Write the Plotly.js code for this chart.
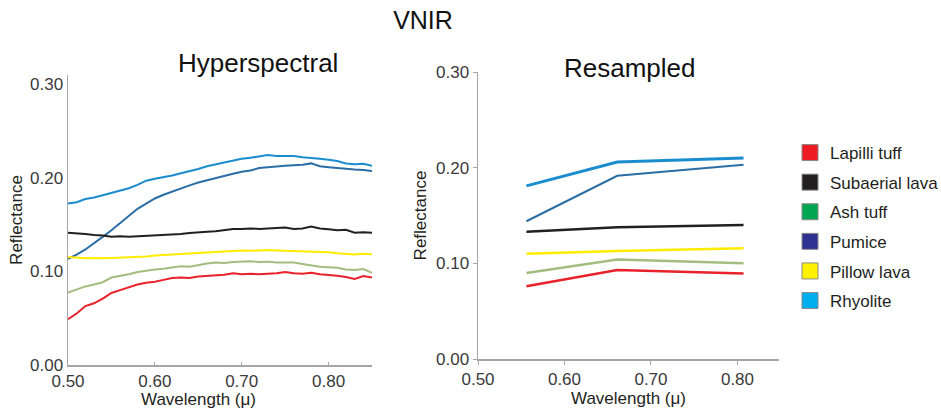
<!DOCTYPE html>
<html>
<head>
<meta charset="utf-8">
<script src="https://cdn.plot.ly/plotly-3.0.1.min.js"></script>
<style>html,body{margin:0;padding:0;background:#fff}#chart{width:941px;height:412px}</style>
</head>
<body>
<div id="chart"></div>
<script>
// Hyperspectral wavelengths (microns)
const hyperWl = [0.50,0.51,0.52,0.53,0.54,0.55,0.56,0.57,0.58,0.59,0.60,0.61,0.62,0.63,0.64,0.65,0.66,0.67,0.68,0.69,0.70,0.71,0.72,0.73,0.74,0.75,0.76,0.77,0.78,0.79,0.80,0.81,0.82,0.83,0.84,0.85];
const hyperLapilli  = [0.049,0.055,0.063,0.066,0.071,0.077,0.080,0.083,0.086,0.088,0.089,0.091,0.093,0.0935,0.093,0.0945,0.095,0.0955,0.0965,0.098,0.097,0.0975,0.097,0.0975,0.098,0.0995,0.098,0.0975,0.0985,0.097,0.0965,0.0955,0.094,0.092,0.095,0.0935];
const hyperSubaerial= [0.1415,0.141,0.140,0.139,0.1385,0.137,0.1375,0.137,0.1375,0.138,0.138,0.1385,0.139,0.140,0.141,0.142,0.1425,0.143,0.144,0.1455,0.1455,0.146,0.1455,0.146,0.1465,0.147,0.1455,0.146,0.148,0.146,0.145,0.144,0.1445,0.1415,0.142,0.1415];
const hyperPillow   = [0.1155,0.1145,0.114,0.1145,0.114,0.1145,0.1148,0.115,0.1155,0.116,0.117,0.1175,0.118,0.1185,0.119,0.1195,0.1205,0.121,0.1215,0.122,0.1225,0.122,0.1225,0.123,0.1225,0.1222,0.1225,0.122,0.1215,0.121,0.1205,0.1195,0.1185,0.118,0.119,0.1185];
const hyperAsh      = [0.0775,0.081,0.084,0.086,0.0885,0.0935,0.095,0.097,0.0995,0.101,0.102,0.103,0.1045,0.1055,0.105,0.107,0.1085,0.1095,0.109,0.110,0.1105,0.111,0.110,0.1105,0.1095,0.1095,0.1095,0.108,0.1065,0.105,0.1045,0.104,0.102,0.1015,0.1025,0.0985];
const hyperRhyoA    = [0.1725,0.174,0.1775,0.179,0.1815,0.184,0.187,0.189,0.1925,0.197,0.199,0.2005,0.2025,0.205,0.207,0.2095,0.2125,0.2145,0.216,0.218,0.2205,0.2215,0.223,0.2245,0.2235,0.2235,0.2235,0.222,0.2215,0.2205,0.2195,0.218,0.2155,0.2145,0.215,0.213];
const hyperRhyoB    = [0.1135,0.118,0.1235,0.130,0.137,0.144,0.152,0.160,0.167,0.1725,0.178,0.182,0.1855,0.189,0.192,0.195,0.1975,0.200,0.2025,0.2045,0.2065,0.208,0.2105,0.2115,0.2125,0.213,0.2135,0.214,0.2155,0.2125,0.2115,0.2105,0.2095,0.209,0.2085,0.2075];

// Resampled band centres (microns)
const resWl = [0.556,0.661,0.807];
const resLapilli   = [0.076,0.093,0.0895];
const resSubaerial = [0.133,0.1376,0.140];
const resPillow    = [0.110,0.113,0.1157];
const resAsh       = [0.090,0.104,0.100];
const resRhyoA     = [0.181,0.206,0.210];
const resRhyoB     = [0.144,0.1915,0.203];

// Legend
const legendNames  = ['Lapilli tuff','Subaerial lava','Ash tuff','Pumice','Pillow lava','Rhyolite'];
const legendColors = ['#ed1c24','#231f20','#00a651','#2e3192','#fff200','#00aeef'];

const tickVals = [0.50,0.60,0.70,0.80];
const tickText = ['0.50','0.60','0.70','0.80'];
const yTickVals = [0,0.10,0.20,0.30];
const yTickText = ['0.00','0.10','0.20','0.30'];

const FONT = 'Liberation Sans, Arial, Helvetica, sans-serif';

const hyperSeries = [
  {y: hyperRhyoA, c:'#1b8dcf', w:2},
  {y: hyperRhyoB, c:'#2b6ea6', w:2},
  {y: hyperSubaerial, c:'#231f20', w:2},
  {y: hyperPillow, c:'#ffec00', w:2},
  {y: hyperAsh, c:'#a3bd80', w:2},
  {y: hyperLapilli, c:'#e8212a', w:2}
];
const resSeries = [
  {y: resRhyoA, c:'#1b8dcf', w:3},
  {y: resRhyoB, c:'#2b6ea6', w:2},
  {y: resSubaerial, c:'#231f20', w:2.5},
  {y: resPillow, c:'#ffec00', w:2.5},
  {y: resAsh, c:'#a3bd80', w:2.5},
  {y: resLapilli, c:'#e8212a', w:2.5}
];

const traces = [];
hyperSeries.forEach(s => traces.push({type:'scatter', mode:'lines', x: hyperWl, y: s.y, xaxis:'x', yaxis:'y',
  line:{color:s.c, width:s.w}, showlegend:false, hoverinfo:'skip'}));
resSeries.forEach(s => traces.push({type:'scatter', mode:'lines', x: resWl, y: s.y, xaxis:'x2', yaxis:'y2',
  line:{color:s.c, width:s.w}, showlegend:false, hoverinfo:'skip'}));
legendNames.forEach((n,i) => traces.push({type:'scatter', mode:'markers', x:[null], y:[null], name:n,
  legendgroup:'g'+i, xaxis:'x2', yaxis:'y2',
  marker:{symbol:'square', size:16, color:legendColors[i], line:{color:'#8a8a8a', width:1}}}));

const axisCommon = {showgrid:false, zeroline:false, showline:true, linecolor:'#a6a6a6', linewidth:1.5,
  tickfont:{family:FONT, size:17, color:'#3a3a3a'}, tickcolor:'#a6a6a6'};

const layout = {
  width:941, height:412,
  margin:{l:0,r:0,t:0,b:0, autoexpand:false},
  paper_bgcolor:'#ffffff', plot_bgcolor:'#ffffff',
  font:{family:FONT, color:'#231f20'},
  title:{text:'VNIR', x:423/941, xanchor:'center', y:1-20/412, yanchor:'middle', font:{family:FONT, size:25, color:'#111'}},
  showlegend:true,
  legend:{x:790/941, xanchor:'left', y:1-135/412, yanchor:'top', font:{family:FONT, size:17, color:'#231f20'},
    tracegroupgap:4.5, bgcolor:'rgba(0,0,0,0)', borderwidth:0, itemclick:false},
  xaxis:Object.assign({}, axisCommon, {domain:[68/941, 372/941], range:[0.5,0.85], tickvals:tickVals, ticktext:tickText,
    ticks:'inside', ticklen:3, anchor:'y'}),
  yaxis:Object.assign({}, axisCommon, {domain:[47/412, 337/412], range:[0,0.31], tickvals:yTickVals, ticktext:yTickText,
    ticks:'', anchor:'x',
    title:{text:'Reflectance', font:{family:FONT, size:17, color:'#231f20'}, standoff:3}}),
  xaxis2:Object.assign({}, axisCommon, {domain:[478/941, 779/941], range:[0.5,0.848], tickvals:tickVals, ticktext:tickText,
    ticks:'outside', ticklen:4, anchor:'y2',
    title:{text:'Wavelength (μ)', font:{family:FONT, size:17, color:'#231f20'}, standoff:1}}),
  yaxis2:Object.assign({}, axisCommon, {domain:[53/412, 340/412], range:[0,0.30], tickvals:yTickVals, ticktext:yTickText,
    ticks:'outside', ticklen:4, anchor:'x2',
    title:{text:'Reflectance', font:{family:FONT, size:17, color:'#231f20'}, standoff:5}}),
  annotations:[
    {text:'Hyperspectral', xref:'paper', yref:'paper', x:258/941, y:1-63/412, xanchor:'center', yanchor:'middle', showarrow:false,
      font:{family:FONT, size:26, color:'#111'}},
    {text:'Resampled', xref:'paper', yref:'paper', x:630/941, y:1-68/412, xanchor:'center', yanchor:'middle', showarrow:false,
      font:{family:FONT, size:26, color:'#111'}},
    {text:'Wavelength (μ)', xref:'paper', yref:'paper', x:198/941, y:1-399/412, xanchor:'center', yanchor:'middle', showarrow:false,
      font:{family:FONT, size:17, color:'#231f20'}}
  ]
};

Plotly.newPlot('chart', traces, layout, {displayModeBar:false, staticPlot:true});
</script>
</body>
</html>
